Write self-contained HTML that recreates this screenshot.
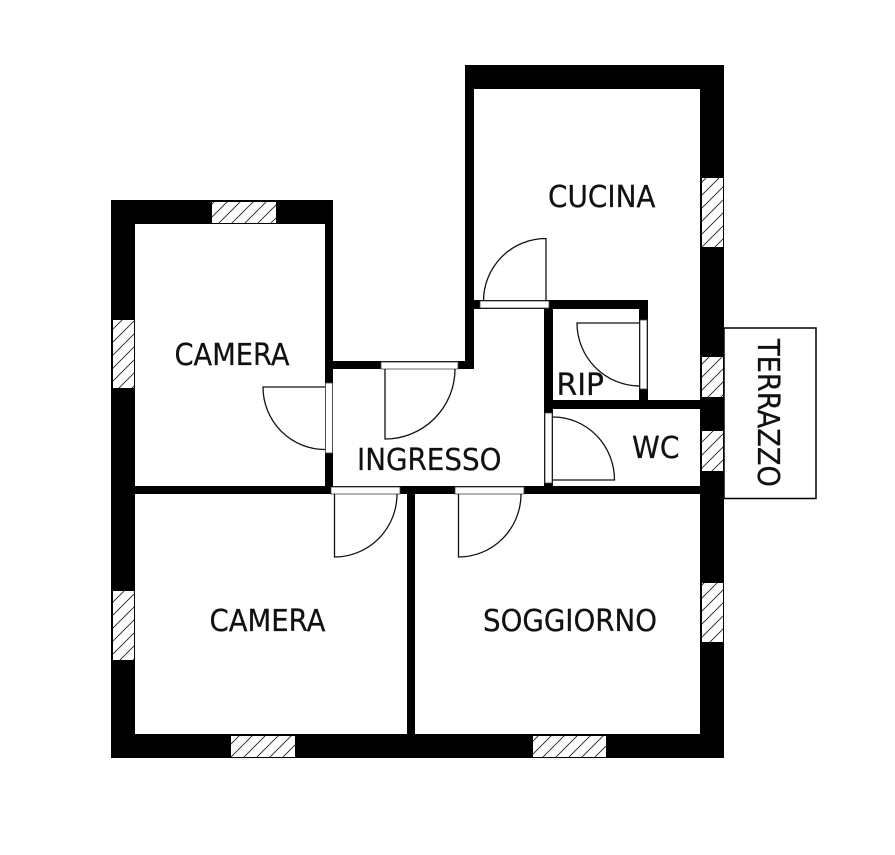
<!DOCTYPE html>
<html>
<head>
<meta charset="utf-8">
<style>
html,body{margin:0;padding:0;background:#fff;width:895px;height:855px;overflow:hidden}
svg{display:block}
text{font-family:"DejaVu Sans","Liberation Sans",sans-serif;font-size:30px;fill:#111;stroke:#111;stroke-width:0.250px}
</style>
</head>
<body>
<svg width="895" height="855" viewBox="0 0 895 855" xmlns="http://www.w3.org/2000/svg">
<defs>
<pattern id="h" width="13" height="13" patternUnits="userSpaceOnUse">
<path d="M-1 14L14 -1M-7 7L7 -7M6 20L20 6" stroke="#222" stroke-width="0.9" fill="none"/>
</pattern>
</defs>
<rect width="895" height="855" fill="#fff"/>

<!-- terrace -->
<rect x="724" y="328" width="92" height="170.500" fill="#fff" stroke="#000" stroke-width="1.500"/>

<!-- walls -->
<g fill="#000">
<rect x="111" y="200" width="24" height="558"/>
<rect x="111" y="200" width="222" height="24"/>
<rect x="325" y="200" width="8" height="294"/>
<rect x="111" y="734" width="613" height="24"/>
<rect x="700" y="65" width="24" height="693"/>
<rect x="465" y="65" width="259" height="24"/>
<rect x="465" y="65" width="9" height="304"/>
<rect x="325" y="361" width="149" height="8"/>
<rect x="135" y="486" width="565" height="8"/>
<rect x="407" y="486" width="8" height="248"/>
<rect x="465" y="300" width="183" height="9"/>
<rect x="544" y="300" width="9" height="194"/>
<rect x="639" y="300" width="9" height="109"/>
<rect x="544" y="400" width="156" height="9"/>
</g>

<!-- windows -->
<g>
<g fill="#fff">
<rect x="212" y="202" width="64" height="21"/>
<rect x="113" y="320" width="21" height="68"/>
<rect x="113" y="591" width="21" height="69"/>
<rect x="231" y="736" width="64" height="21"/>
<rect x="533" y="736" width="73" height="21"/>
<rect x="702" y="178" width="21" height="69"/>
<rect x="702" y="357" width="21" height="40"/>
<rect x="702" y="431" width="21" height="40"/>
<rect x="702" y="583" width="21" height="59"/>
</g>
<g fill="url(#h)">
<rect x="212" y="202" width="64" height="21"/>
<rect x="113" y="320" width="21" height="68"/>
<rect x="113" y="591" width="21" height="69"/>
<rect x="231" y="736" width="64" height="21"/>
<rect x="533" y="736" width="73" height="21"/>
<rect x="702" y="178" width="21" height="69"/>
<rect x="702" y="357" width="21" height="40"/>
<rect x="702" y="431" width="21" height="40"/>
<rect x="702" y="583" width="21" height="59"/>
</g>
</g>

<!-- door openings -->
<g fill="#fff" stroke="#444" stroke-width="0.800">
<rect x="480" y="301" width="69" height="7"/>
<rect x="640" y="320" width="7" height="69"/>
<rect x="545" y="413" width="7" height="70"/>
<rect x="381" y="362" width="77" height="7"/>
<rect x="325.500" y="383" width="7" height="70"/>
<rect x="331" y="487" width="69" height="7"/>
<rect x="455" y="487" width="69" height="7"/>
</g>

<!-- door leaves -->
<g fill="none" stroke="#111" stroke-width="1.300">
<path d="M483.500 301A62.500 62.500 0 0 1 546 238.500V301"/>
<path d="M640 386A63 63 0 0 1 577 323H640"/>
<path d="M553 417A61.500 63 0 0 1 614.500 480H553"/>
<path d="M455 369A70 70 0 0 1 385 439V369"/>
<path d="M325 449.500A62 62.500 0 0 1 263 387H325"/>
<path d="M397 494A62.500 63 0 0 1 334.500 557V494"/>
<path d="M521 494A62.500 63 0 0 1 458.500 557V494"/>
</g>

<!-- labels -->
<text x="174.500" y="365" textLength="115" lengthAdjust="spacingAndGlyphs">CAMERA</text>
<text x="209.500" y="631" textLength="116" lengthAdjust="spacingAndGlyphs">CAMERA</text>
<text x="483" y="631" textLength="174" lengthAdjust="spacingAndGlyphs">SOGGIORNO</text>
<text x="548" y="207" textLength="107.500" lengthAdjust="spacingAndGlyphs">CUCINA</text>
<text x="357" y="470" textLength="144.500" lengthAdjust="spacingAndGlyphs">INGRESSO</text>
<text x="556.500" y="395" textLength="47.500" lengthAdjust="spacingAndGlyphs">RIP</text>
<text x="632" y="458" textLength="47.500" lengthAdjust="spacingAndGlyphs">WC</text>
<text transform="translate(758,339) rotate(90)" x="0" y="0" textLength="148" lengthAdjust="spacingAndGlyphs">TERRAZZO</text>
</svg>
</body>
</html>
